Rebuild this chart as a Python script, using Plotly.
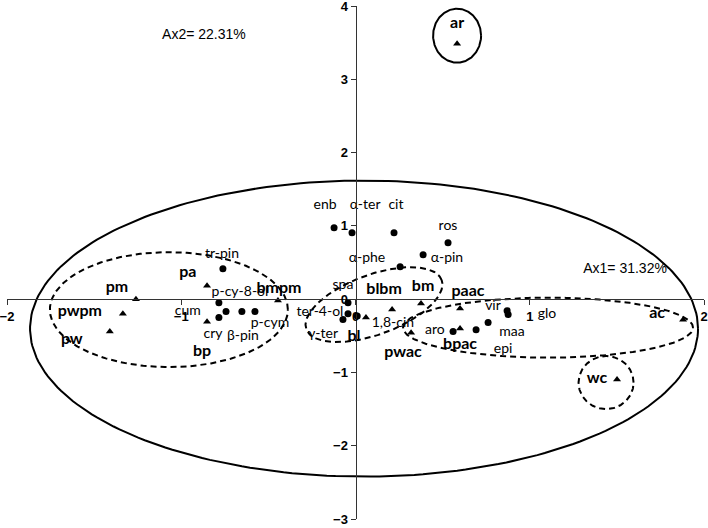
import numpy as np
import plotly.graph_objects as go

# ---- Data: samples (triangles) ----
sample_names = ["ar", "pm", "pwpm", "pw", "pa", "bp", "bmpm", "blbm", "bm", "bl",
                "pwac", "paac", "bpac", "ac", "wc"]
sample_x = [0.583, -1.260, -1.335, -1.410, -0.852, -0.852, -0.445, 0.210, 0.376, 0.060,
            0.319, 0.600, 0.600, 1.880, 1.501]
sample_y = [3.486, 0.000, -0.198, -0.443, 0.184, -0.307, -0.020, -0.143, -0.061, -0.252,
            -0.457, -0.129, -0.402, -0.280, -1.098]
sample_label_x = [0.583, -1.369, -1.582, -1.628, -0.962, -0.881, -0.439, 0.164, 0.388, -0.009,
                  0.273, 0.646, 0.600, 1.731, 1.386]
sample_label_y = [3.760, 0.157, -0.171, -0.553, 0.362, -0.716, 0.143, 0.130, 0.171, -0.512,
                  -0.730, 0.102, -0.621, -0.198, -1.085]

# ---- Data: variables (circles) ----
var_names = ["tr-pin", "p-cy-8-ol", "cum", "β-pin", "p-cym", "cry", "enb", "α-ter", "cit",
             "ros", "α-pin", "α-phe", "spa", "ter-4-ol", "γ-ter", "1,8-cin", "aro", "epi",
             "maa", "vir", "glo"]
var_x = [-0.761, -0.784, -0.743, -0.652, -0.577, -0.784, -0.123, -0.020, 0.221,
         0.531, 0.388, 0.256, -0.043, -0.043, -0.072, 0.010, 0.560, 0.692,
         0.761, 0.870, 0.876]
var_y = [0.416, -0.048, -0.170, -0.170, -0.170, -0.252, 0.975, 0.907, 0.907,
         0.770, 0.607, 0.443, -0.048, -0.198, -0.279, -0.230, -0.443, -0.416,
         -0.320, -0.157, -0.211]
var_label_x = [-0.766, -0.663, -0.962, -0.646, -0.491, -0.818, -0.175, 0.055, 0.232,
               0.531, 0.525, 0.066, -0.072, -0.204, -0.187, 0.215, 0.456, 0.847,
               0.898, 0.789, 1.099]
var_label_y = [0.607, 0.089, -0.171, -0.512, -0.334, -0.484, 1.276, 1.276, 1.276,
               0.989, 0.553, 0.553, 0.184, -0.184, -0.484, -0.334, -0.430, -0.689,
               -0.457, -0.102, -0.211]

# ---- Axis ticks ----
x_ticks = [-2, -1, 0, 1, 2]
y_ticks = [-3, -2, -1, 0, 1, 2, 3, 4]
axis_notes = ["Ax1= 31.32%", "Ax2= 22.31%"]
axis_note_x = [1.547, -0.87]
axis_note_y = [0.40, 3.60]

# ---- Group outlines: centre (data), radii (px), angle (deg), dashed ----
ell_cx = [0.049, -1.071, 0.106, 1.105, 1.438, 0.583]
ell_cy = [-0.402, -0.143, -0.075, -0.389, -1.139, 3.595]
ell_rx = [334, 119, 72, 145, 27.5, 24]
ell_ry = [148, 57.5, 30, 30, 26.5, 27]
ell_ang = [0, 0, 20, 0, 0, 0]
ell_dash = [False, True, True, True, True, False]

W, H = 708, 528
ML, MR, MT, MB = 7, 4, 6, 9
XR = [-2, 2]
YR = [-3, 4]
SX = (W - ML - MR) / (XR[1] - XR[0])
SY = (H - MT - MB) / (YR[1] - YR[0])

fig = go.Figure()

t = np.linspace(0, 2 * np.pi, 240)
for cx, cy, rx, ry, ang, dash in zip(ell_cx, ell_cy, ell_rx, ell_ry, ell_ang, ell_dash):
    th = np.deg2rad(ang)
    dx = rx * np.cos(t) * np.cos(th) - ry * np.sin(t) * np.sin(th)
    dy = rx * np.cos(t) * np.sin(th) + ry * np.sin(t) * np.cos(th)
    fig.add_trace(go.Scatter(
        x=cx + dx / SX, y=cy + dy / SY, mode="lines",
        line=dict(color="black", width=2, dash="6px,4px" if dash else "solid"),
        hoverinfo="skip", showlegend=False, cliponaxis=False))

fig.add_trace(go.Scatter(
    x=var_x, y=var_y, mode="markers",
    marker=dict(symbol="circle", size=7, color="black"),
    showlegend=False))
fig.add_trace(go.Scatter(
    x=sample_x, y=sample_y, mode="markers",
    marker=dict(symbol="triangle-up", size=7, color="black"),
    showlegend=False))

fig.add_trace(go.Scatter(
    x=var_label_x, y=var_label_y, mode="text", text=var_names,
    textposition="middle center",
    textfont=dict(family="Lato", size=14, color="black"),
    showlegend=False))
fig.add_trace(go.Scatter(
    x=sample_label_x, y=sample_label_y, mode="text", text=sample_names,
    textposition="middle center",
    textfont=dict(family="Lato", size=16, color="black", weight="bold"),
    showlegend=False))
fig.add_trace(go.Scatter(
    x=axis_note_x, y=axis_note_y, mode="text", text=axis_notes,
    textposition="middle center",
    textfont=dict(family="Liberation Sans", size=14, color="black"),
    showlegend=False))

axis_common = dict(showgrid=False, zeroline=False, showline=True, linecolor="#333",
                   linewidth=1, ticks="outside", ticklen=5, tickcolor="#333",
                   tickfont=dict(family="Liberation Sans", size=13, color="black", weight="bold"),
                   anchor="free", automargin=False, ticklabeloverflow="allow")
fig.update_layout(
    width=W, height=H,
    margin=dict(l=ML, r=MR, t=MT, b=MB, autoexpand=False),
    paper_bgcolor="white", plot_bgcolor="white",
    xaxis=dict(range=XR, tickvals=x_ticks, position=(0 - YR[0]) / (YR[1] - YR[0]),
               **axis_common),
    yaxis=dict(range=YR, tickvals=y_ticks, position=(0 - XR[0]) / (XR[1] - XR[0]),
               **axis_common),
    showlegend=False,
)
fig.write_html("out.html",
               config={"displayModeBar": False},
               post_script="document.body.style.margin='0';document.body.style.overflow='hidden';")
